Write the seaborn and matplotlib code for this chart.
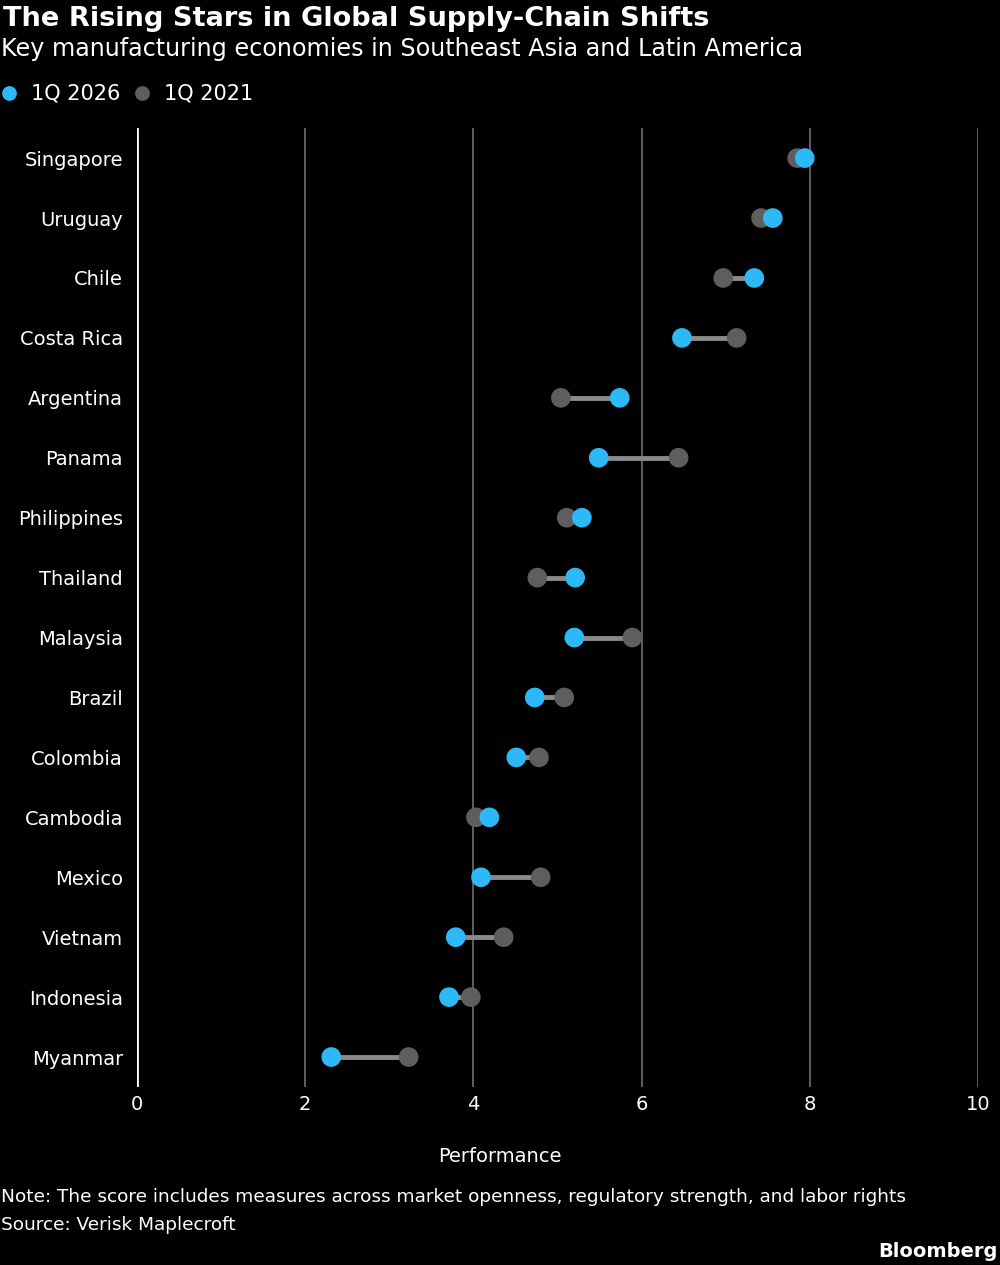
import matplotlib
matplotlib.use("Agg")
import matplotlib.pyplot as plt
import pandas as pd
import seaborn as sns

countries = ["Singapore", "Uruguay", "Chile", "Costa Rica", "Argentina", "Panama",
             "Philippines", "Thailand", "Malaysia", "Brazil", "Colombia", "Cambodia",
             "Mexico", "Vietnam", "Indonesia", "Myanmar"]
score_2026 = [7.94, 7.56, 7.34, 6.48, 5.74, 5.49, 5.29, 5.21, 5.20, 4.73, 4.51, 4.19,
              4.09, 3.79, 3.71, 2.31]
score_2021 = [7.85, 7.42, 6.97, 7.13, 5.04, 6.44, 5.11, 4.76, 5.89, 5.08, 4.78, 4.03,
              4.80, 4.36, 3.97, 3.23]
series = ["1Q 2026", "1Q 2021"]
x_ticks = [0, 2, 4, 6, 8, 10]

BLUE = "#2DB9F7"
GREY = "#5E5E5E"

wide = pd.DataFrame({"country": countries, "1Q 2026": score_2026, "1Q 2021": score_2021})
# 2021 first so the blue dots are drawn on top
long = wide.melt(id_vars="country", value_vars=["1Q 2021", "1Q 2026"],
                 var_name="period", value_name="score")

sns.set_style("dark")
plt.rcParams["font.family"] = ["DejaVu Sans"]
plt.rcParams["figure.facecolor"] = "black"

fig = plt.figure(figsize=(10, 12.65), dpi=100)
ax = fig.add_axes([0.137, 0.1407, 0.841, 0.758])
ax.set_facecolor("black")

ypos = {c: i for i, c in enumerate(countries)}
# connectors between the two periods
ax.hlines([ypos[c] for c in countries], wide["1Q 2026"], wide["1Q 2021"],
          color="#8A8A8A", lw=3.5, zorder=2)

sns.scatterplot(data=long, x="score", y="country", hue="period",
                hue_order=series, palette={"1Q 2026": BLUE, "1Q 2021": GREY},
                s=200, edgecolor="none", linewidth=0, ax=ax, zorder=3, legend=True)

ax.set_ylim(len(countries) - 0.5, -0.5)
ax.set_xlim(0, 10)
ax.set_xticks(x_ticks)
ax.grid(False)
for t in x_ticks[1:]:
    ax.axvline(t, color="#6E6E6E", lw=1.2, zorder=1)
ax.axvline(0, color="white", lw=2, zorder=1)
for s in ax.spines.values():
    s.set_visible(False)
ax.tick_params(axis="both", length=0, colors="white", labelsize=14)
ax.tick_params(axis="y", pad=10)
ax.tick_params(axis="x", pad=6)
for lbl in ax.get_yticklabels():
    lbl.set_va("center_baseline")
ax.set_ylabel("")
ax.set_xlabel("Performance", color="white", fontsize=14)
ax.xaxis.set_label_coords(0.4316, -0.063)

handles, labels = ax.get_legend_handles_labels()
ax.get_legend().remove()
fig.legend(handles, labels, loc="center left", bbox_to_anchor=(0.002, 0.9257),
           ncol=2, frameon=False, fontsize=15, labelcolor="white",
           borderpad=0, borderaxespad=0, handlelength=0.7,
           handletextpad=0.7, columnspacing=0.7, markerscale=0.75)

fig.text(0.003, 0.9955, "The Rising Stars in Global Supply-Chain Shifts", color="white",
         fontsize=19.6, fontweight="bold", va="top")
fig.text(0.001, 0.971, "Key manufacturing economies in Southeast Asia and Latin America",
         color="white", fontsize=17.2, va="top")
fig.text(0.001, 0.0535,
         "Note: The score includes measures across market openness, regulatory strength, and labor rights",
         color="white", fontsize=13.3, va="center")
fig.text(0.001, 0.0315, "Source: Verisk Maplecroft", color="white", fontsize=13.3, va="center")
fig.text(0.998, 0.011, "Bloomberg", color="white", fontsize=14, fontweight="bold",
         ha="right", va="center")

fig.savefig("out.png", dpi=100, facecolor="black")
